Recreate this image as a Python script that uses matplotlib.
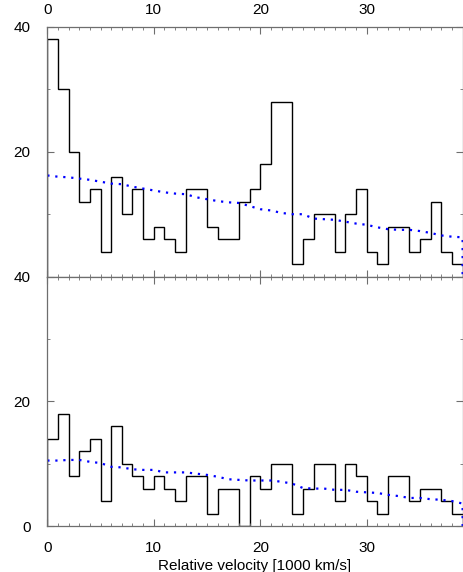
import numpy as np
import matplotlib
matplotlib.use("Agg")
import matplotlib.pyplot as plt
from matplotlib.ticker import MultipleLocator, FixedLocator

plt.rcParams['font.family'] = ['Liberation Sans', 'DejaVu Sans']

bin_edges = list(range(0, 40))  # 0..39, 1000 km/s bins

top_counts = [38, 30, 20, 12, 14, 4, 16, 10, 14, 6,
              8, 6, 4, 14, 14, 8, 6, 6, 12, 14,
              18, 28, 28, 2, 6, 10, 10, 4, 10, 14,
              4, 2, 8, 8, 4, 6, 12, 4, 2]
bottom_counts = [14, 18, 8, 12, 14, 4, 16, 10, 8, 6,
                 8, 6, 4, 8, 8, 2, 6, 6, 0, 8,
                 6, 10, 10, 2, 6, 10, 10, 4, 10, 8,
                 4, 2, 8, 8, 4, 6, 6, 4, 2]

curve_x = list(range(0, 40)) + [39]
top_curve = [16.2, 16.0, 15.9, 15.7, 15.5, 15.2, 14.9, 14.8, 14.4, 14.1,
             13.8, 13.5, 13.3, 13.2, 12.7, 12.4, 12.1, 11.9, 11.8, 11.3,
             10.8, 10.6, 10.2, 10.0, 10.0, 9.3, 9.2, 9.1, 8.8, 8.5,
             8.3, 7.9, 7.6, 7.5, 7.5, 7.3, 7.0, 6.6, 6.4, 6.3, 0.0]
bottom_curve = [10.5, 10.5, 10.6, 10.6, 10.3, 10.1, 9.5, 9.4, 9.1, 9.0,
                9.0, 8.6, 8.6, 8.6, 8.4, 8.2, 7.9, 7.5, 7.4, 7.3,
                7.3, 7.3, 7.1, 6.8, 6.1, 6.0, 6.0, 5.8, 5.8, 5.5,
                5.4, 5.3, 5.0, 4.8, 4.5, 4.5, 4.3, 4.2, 4.0, 3.6, 0.0]

x_ticks = [0, 10, 20, 30]
xlabel = "Relative velocity [1000 km/s]"

W, H = 463, 572
fig = plt.figure(figsize=(W / 100, H / 100), dpi=100)
left = 47.3 / W
width = (462.6 - 47.3) / W
ax_top = fig.add_axes([left, 1 - 276.7 / H, width, 250.0 / H])
ax_bot = fig.add_axes([left, 1 - 526.0 / H, width, 249.3 / H])

edges = np.array(bin_edges)
spine_color = '#6e6e6e'

for ax, counts, curve in [(ax_top, top_counts, top_curve),
                          (ax_bot, bottom_counts, bottom_curve)]:
    ax.stairs(counts, edges, color='black', linewidth=1.0, baseline=0)
    ax.plot(curve_x, curve, color='#0000ff', linewidth=1.6,
            linestyle=(0, (1, 2.6)))
    ax.set_xlim(0, 39)
    ax.set_ylim(0, 40)
    ax.xaxis.set_major_locator(FixedLocator(x_ticks))
    ax.xaxis.set_minor_locator(MultipleLocator(1))
    ax.yaxis.set_major_locator(MultipleLocator(20))
    ax.yaxis.set_minor_locator(MultipleLocator(10))
    ax.tick_params(which='both', direction='in', top=True, right=True,
                   color=spine_color, labelsize=11)
    ax.tick_params(which='major', length=5, width=0.8)
    ax.tick_params(which='minor', length=2.5, width=0.6)
    ax.tick_params(axis='y', pad=12)
    for s in ax.spines.values():
        s.set_color(spine_color)
        s.set_linewidth(0.9)

ax_top.set_yticks([20, 40])
ax_top.tick_params(axis='x', labelbottom=False, labeltop=True, pad=7)
ax_bot.set_yticks([0, 20, 40])
ax_bot.tick_params(axis='x', labelbottom=True, labeltop=False, pad=11)
ax_bot.set_xlabel(xlabel, fontsize=11, labelpad=3)

fig.savefig("out.png", dpi=100)
